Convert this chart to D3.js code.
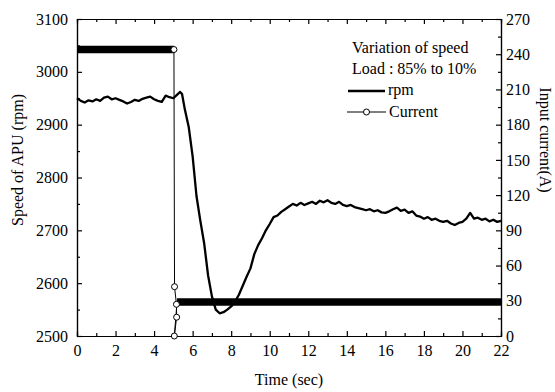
<!DOCTYPE html>
<html>
<head>
<meta charset="utf-8">
<script src="https://cdn.jsdelivr.net/npm/d3@7"></script>
<style>
  body { margin: 0; background: #fff; }
  text { font-family: "Liberation Serif", "Times New Roman", Times, serif; fill: #000; }
</style>
</head>
<body>
<div id="chart"></div>
<script>
// speed of APU (rpm)
const rpmTime = [0, 0.2, 0.4, 0.6, 0.8, 1.0, 1.2, 1.4, 1.6, 1.8, 2.0, 2.2, 2.4, 2.6, 2.8, 3.0, 3.2, 3.4, 3.6, 3.8,
  4.0, 4.2, 4.4, 4.6, 4.8, 5.0, 5.2, 5.35, 5.45, 5.6, 5.8, 6.0, 6.2, 6.4, 6.6, 6.8, 7.0, 7.2, 7.4, 7.6, 7.8,
  8.0, 8.2, 8.4, 8.6, 8.8, 9.0, 9.2, 9.4, 9.6, 9.8, 10.0, 10.2, 10.4, 10.6, 10.8, 11.0, 11.2, 11.4, 11.6, 11.8,
  12.0, 12.2, 12.4, 12.6, 12.8, 13.0, 13.2, 13.4, 13.6, 13.8, 14.0, 14.2, 14.4, 14.6, 14.8, 15.0, 15.2, 15.4,
  15.6, 15.8, 16.0, 16.2, 16.4, 16.6, 16.8, 17.0, 17.2, 17.4, 17.6, 17.8, 18.0, 18.2, 18.4, 18.6, 18.8, 19.0,
  19.2, 19.4, 19.6, 19.8, 20.0, 20.2, 20.4, 20.6, 20.8, 21.0, 21.2, 21.4, 21.6, 21.8, 22.0];
const rpmValue = [2950, 2945, 2942, 2946, 2944, 2948, 2945, 2951, 2953, 2948, 2950, 2947, 2944, 2940, 2943, 2947, 2945, 2949, 2951, 2953,
  2948, 2945, 2943, 2955, 2952, 2950, 2957, 2962, 2958, 2928, 2895, 2840, 2765, 2718, 2675, 2615, 2575, 2550, 2543, 2545, 2550,
  2556, 2565, 2578, 2595, 2612, 2628, 2655, 2672, 2685, 2700, 2712, 2725, 2728, 2735, 2740, 2745, 2750, 2747, 2752, 2748,
  2751, 2754, 2750, 2756, 2753, 2757, 2752, 2750, 2754, 2748, 2746, 2748, 2744, 2742, 2740, 2738, 2740, 2736,
  2738, 2734, 2733, 2736, 2740, 2743, 2737, 2739, 2733, 2736, 2728, 2726, 2722, 2725, 2720, 2722, 2718, 2716,
  2718, 2713, 2710, 2714, 2716, 2722, 2733, 2722, 2724, 2720, 2722, 2717, 2720, 2716, 2718];

// input current (A)
const currentTime = [0, 5.03, 5.06, 5.16, 5.17, 5.05, 5.19, 22];
const currentAmps = [244, 244, 42, 27, 16, 0, 29, 29];

const timeTicks = [0, 2, 4, 6, 8, 10, 12, 14, 16, 18, 20, 22];
const rpmTicks = [2500, 2600, 2700, 2800, 2900, 3000, 3100];
const ampTicks = [0, 30, 60, 90, 120, 150, 180, 210, 240, 270];

const W = 555, H = 392;
const L = 77, R = 501, T = 19, B = 336;

const svg = d3.select("#chart").append("svg").attr("width", W).attr("height", H);

const x = d3.scaleLinear().domain([0, 22]).range([L, R]);
const yL = d3.scaleLinear().domain([2500, 3100]).range([B, T]);
const yR = d3.scaleLinear().domain([0, 270]).range([B, T]);

function styleAxis(g) {
  g.attr("font-family", null);
  g.selectAll("path, line").attr("stroke", "#000").attr("stroke-width", 1.2);
  g.selectAll("text").style("font-family", "'Liberation Serif', 'Times New Roman', serif")
   .style("font-size", "16px").attr("fill", "#000");
}

// minor ticks
const minorT = d3.range(1, 22, 2);
const minorL = d3.range(2550, 3100, 100);
const minorR = d3.range(15, 270, 30);

svg.append("g").attr("transform", `translate(0,${B})`)
   .call(d3.axisBottom(x).tickValues(minorT).tickSize(-3).tickFormat("")).call(styleAxis);
svg.append("g").attr("transform", `translate(0,${T})`)
   .call(d3.axisTop(x).tickValues(minorT).tickSize(-3).tickFormat("")).call(styleAxis);
svg.append("g").attr("transform", `translate(${L},0)`)
   .call(d3.axisLeft(yL).tickValues(minorL).tickSize(-3).tickFormat("")).call(styleAxis);
svg.append("g").attr("transform", `translate(${R},0)`)
   .call(d3.axisRight(yR).tickValues(minorR).tickSize(-3).tickFormat("")).call(styleAxis);

// major axes
const fmt = d3.format("d");
svg.append("g").attr("transform", `translate(0,${B})`)
   .call(d3.axisBottom(x).tickValues(timeTicks).tickFormat(fmt).tickSize(-5).tickSizeOuter(0).tickPadding(9)).call(styleAxis);
svg.append("g").attr("transform", `translate(0,${T})`)
   .call(d3.axisTop(x).tickValues(timeTicks).tickSize(-5).tickSizeOuter(0).tickFormat("")).call(styleAxis);
svg.append("g").attr("transform", `translate(${L},0)`)
   .call(d3.axisLeft(yL).tickValues(rpmTicks).tickFormat(fmt).tickSize(-5).tickSizeOuter(0).tickPadding(9)).call(styleAxis);
svg.append("g").attr("transform", `translate(${R},0)`)
   .call(d3.axisRight(yR).tickValues(ampTicks).tickFormat(fmt).tickSize(-5).tickSizeOuter(0).tickPadding(5)).call(styleAxis);

// rpm line
const rpmData = rpmTime.map((t, i) => ({ t: t, v: rpmValue[i] }));
svg.append("path")
   .datum(rpmData)
   .attr("fill", "none").attr("stroke", "#000").attr("stroke-width", 2.3)
   .attr("stroke-linejoin", "round")
   .attr("d", d3.line().x(d => x(d.t)).y(d => yL(d.v)));

// current: thin connecting line, thick bands where it stays steady, circles on the step
const curData = currentTime.map((t, i) => ({ t: t, a: currentAmps[i] }));
svg.append("path")
   .datum(curData.slice(1, 7))
   .attr("fill", "none").attr("stroke", "#000").attr("stroke-width", 1)
   .attr("d", d3.line().x(d => x(d.t)).y(d => yR(d.a)));

const bands = [];
for (let i = 0; i < curData.length - 1; i++) {
  if (curData[i + 1].t - curData[i].t > 1) bands.push([curData[i], curData[i + 1]]);
}
svg.selectAll(".band").data(bands).enter().append("line")
   .attr("class", "band")
   .attr("x1", d => x(d[0].t)).attr("x2", d => x(d[1].t))
   .attr("y1", d => yR(d[0].a)).attr("y2", d => yR(d[1].a))
   .attr("stroke", "#000").attr("stroke-width", 7.5);

svg.selectAll(".mark").data(curData.slice(1, 6)).enter().append("circle")
   .attr("class", "mark")
   .attr("cx", d => x(d.t)).attr("cy", d => yR(d.a)).attr("r", 3)
   .attr("fill", "#fff").attr("stroke", "#000").attr("stroke-width", 1);

// axis titles
svg.append("text").attr("x", (L + R) / 2).attr("y", 385)
   .attr("text-anchor", "middle").style("font-size", "16px").text("Time (sec)");
svg.append("text").attr("transform", "translate(23,160) rotate(-90)")
   .attr("text-anchor", "middle").style("font-size", "16px").text("Speed of APU (rpm)");
svg.append("text").attr("transform", "translate(540,140) rotate(90)")
   .attr("text-anchor", "middle").style("font-size", "16px").text("Input current(A)");

// legend
const lg = svg.append("g");
lg.append("text").attr("x", 352).attr("y", 53).style("font-size", "16px").text("Variation of speed");
lg.append("text").attr("x", 352).attr("y", 74).style("font-size", "16px").text("Load : 85% to 10%");
lg.append("line").attr("x1", 348).attr("x2", 385).attr("y1", 91).attr("y2", 91)
  .attr("stroke", "#000").attr("stroke-width", 2.5);
lg.append("text").attr("x", 388).attr("y", 95).style("font-size", "16px").text("rpm");
lg.append("line").attr("x1", 347).attr("x2", 386).attr("y1", 112).attr("y2", 112)
  .attr("stroke", "#000").attr("stroke-width", 1);
lg.append("circle").attr("cx", 366.5).attr("cy", 112).attr("r", 3)
  .attr("fill", "#fff").attr("stroke", "#000");
lg.append("text").attr("x", 389).attr("y", 117).style("font-size", "16px").text("Current");
</script>
</body>
</html>
